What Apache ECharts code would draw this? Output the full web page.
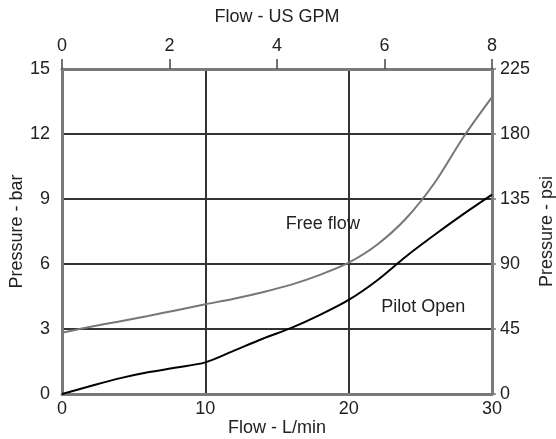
<!DOCTYPE html>
<html><head><meta charset="utf-8">
<script src="https://cdn.jsdelivr.net/npm/echarts@6/dist/echarts.min.js"></script>
<style>html,body{margin:0;padding:0;background:#fff}#c{width:556px;height:439px}</style>
</head><body><div id="c"></div>
<script>
const flowLmin = [0, 2, 4, 6, 8, 10, 12, 14, 16, 18, 20, 22, 24, 26, 28, 30];
const freeFlowBar = [2.83, 3.1, 3.35, 3.6, 3.87, 4.14, 4.4, 4.7, 5.05, 5.5, 6.06, 6.9, 8.1, 9.75, 11.85, 13.7];
const pilotOpenBar = [0, 0.37, 0.72, 1.0, 1.22, 1.46, 2.0, 2.55, 3.05, 3.65, 4.34, 5.25, 6.35, 7.35, 8.3, 9.2];
const curveLabels = ['Free flow', 'Pilot Open'];
const labelAt = [[18.2, 7.85], [25.2, 4.0]];

const font = 'Liberation Sans';
const fs = 18;
const txt = '#222';
const axisGray = '#7a7a7a';
const gridDark = '#333';

const chart = echarts.init(document.getElementById('c'), null, {renderer: 'canvas'});
chart.setOption({
  animation: false,
  backgroundColor: '#fff',
  textStyle: {fontFamily: font},
  grid: {left: 62, right: 64, top: 69, bottom: 45, containLabel: false, outerBoundsMode: 'none'},
  xAxis: [
    {type: 'value', position: 'bottom', min: 0, max: 30, interval: 10,
     name: 'Flow - L/min', nameLocation: 'middle', nameGap: 25, nameMoveOverlap: false,
     nameTextStyle: {fontSize: fs, color: txt, fontFamily: font},
     axisLine: {show: true, onZero: false, lineStyle: {color: axisGray, width: 3}},
     axisTick: {show: false},
     axisLabel: {fontSize: fs, color: txt, margin: 6, fontFamily: font},
     splitLine: {show: true, lineStyle: {color: gridDark, width: 2}}},
    {type: 'value', position: 'top', min: 0, max: 8, interval: 2,
     name: 'Flow - US GPM', nameLocation: 'middle', nameGap: 43, nameMoveOverlap: false,
     nameTextStyle: {fontSize: fs, color: txt, fontFamily: font},
     axisLine: {show: true, onZero: false, lineStyle: {color: axisGray, width: 3}},
     axisTick: {show: true, inside: false, length: 10, lineStyle: {color: '#444', width: 1.5}},
     axisLabel: {fontSize: fs, color: txt, margin: 14, fontFamily: font},
     splitLine: {show: false}}
  ],
  yAxis: [
    {type: 'value', position: 'left', min: 0, max: 15, interval: 3,
     name: 'Pressure - bar', nameLocation: 'middle', nameGap: 36, nameMoveOverlap: false,
     nameTextStyle: {fontSize: fs, color: txt, fontFamily: font},
     axisLine: {show: true, onZero: false, lineStyle: {color: axisGray, width: 3}},
     axisTick: {show: false},
     axisLabel: {fontSize: fs, color: txt, margin: 12, fontFamily: font},
     splitLine: {show: true, lineStyle: {color: gridDark, width: 2}}},
    {type: 'value', position: 'right', min: 0, max: 225, interval: 45,
     name: 'Pressure - psi', nameLocation: 'middle', nameGap: 46, nameMoveOverlap: false,
     nameTextStyle: {fontSize: fs, color: txt, fontFamily: font},
     axisLine: {show: true, onZero: false, lineStyle: {color: axisGray, width: 3}},
     axisTick: {show: true, inside: false, length: 4, lineStyle: {color: axisGray, width: 1.5}},
     axisLabel: {fontSize: fs, color: txt, margin: 8, fontFamily: font},
     splitLine: {show: false}}
  ],
  series: [
    {type: 'line', name: curveLabels[0], xAxisIndex: 0, yAxisIndex: 0, smooth: 0.3, showSymbol: false,
     lineStyle: {color: '#777', width: 2}, z: 5,
     data: flowLmin.map((x, i) => [x, freeFlowBar[i]]),
     markPoint: {symbol: 'circle', symbolSize: 0, silent: true,
       label: {show: true, formatter: curveLabels[0], fontSize: fs, color: txt, fontFamily: font, position: 'inside'},
       data: [{coord: labelAt[0]}]}},
    {type: 'line', name: curveLabels[1], xAxisIndex: 0, yAxisIndex: 0, smooth: 0.3, showSymbol: false,
     lineStyle: {color: '#000', width: 2}, z: 6,
     data: flowLmin.map((x, i) => [x, pilotOpenBar[i]]),
     markPoint: {symbol: 'circle', symbolSize: 0, silent: true,
       label: {show: true, formatter: curveLabels[1], fontSize: fs, color: txt, fontFamily: font, position: 'inside'},
       data: [{coord: labelAt[1]}]}}
  ]
});
</script></body></html>
